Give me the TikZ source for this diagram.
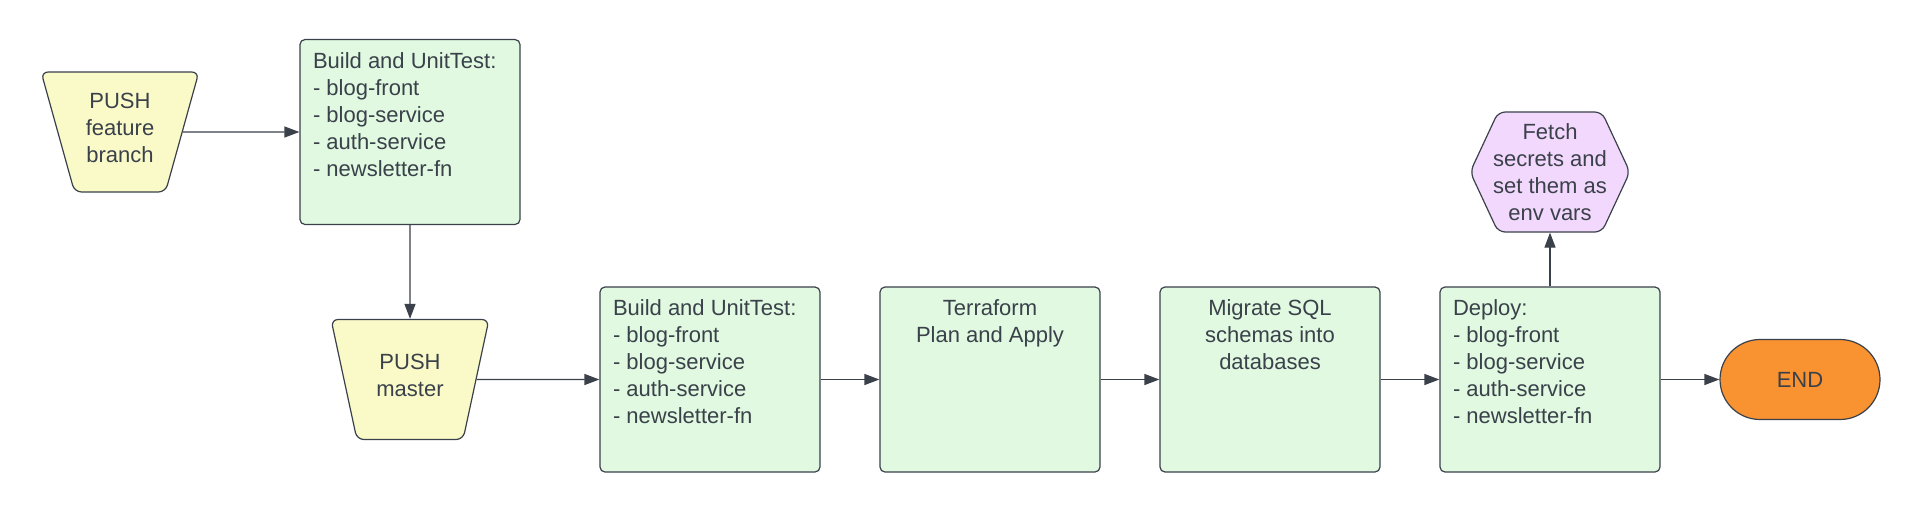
\documentclass[tikz,border=0pt]{standalone}
\usepackage{fontspec}
\setmainfont{Liberation Sans}
\usetikzlibrary{shapes.geometric,shapes.symbols,arrows.meta}
\definecolor{inkgray}{HTML}{3A414A}
\definecolor{pushyellow}{HTML}{FAFAC8}
\definecolor{stagegreen}{HTML}{E0F9E0}
\definecolor{secretpurple}{HTML}{F2D8FC}
\definecolor{endorange}{HTML}{F99230}
\newcommand{\listtext}[1]{\parbox[c][165pt][t]{194pt}{\raggedright\strut #1}}
\newcommand{\midtext}[1]{\parbox[c][165pt][t]{194pt}{\centering\strut #1}}
\tikzset{
  pushbox/.style={trapezium, trapezium left angle=72, trapezium right angle=72,
    shape border rotate=180, trapezium stretches=true, minimum width=158pt,
    minimum height=120pt, inner sep=0pt, draw=inkgray, fill=pushyellow,
    line width=1.2pt, rounded corners=7pt, align=center, text depth=8pt},
  stagebox/.style={rectangle, draw=inkgray, fill=stagegreen, line width=1.2pt,
    rounded corners=5pt, inner xsep=13pt, inner ysep=10pt},
  secretbox/.style={signal, signal to=east and west, signal pointer angle=130,
    minimum height=120pt, inner xsep=-5pt, inner ysep=0pt, draw=inkgray,
    fill=secretpurple, line width=1.2pt, rounded corners=7pt, align=center},
  endbox/.style={rectangle, rounded corners=40pt, minimum width=160pt,
    minimum height=80pt, draw=inkgray, fill=endorange, line width=1.2pt},
  flow/.style={-{Triangle[length=15pt,width=11pt]}, draw=inkgray, line width=1.2pt}
}
\begin{document}
\begin{tikzpicture}[x=1pt,y=-1pt,
  every node/.append style={font=\fontsize{22}{27}\selectfont, text=inkgray}]
  \useasboundingbox (0,0) rectangle (1920,512);

  % feature branch
  \node[pushbox] (pushfeat) at (120,132) {PUSH\\feature\\branch};
  \node[stagebox] (buildfeat) at (410,132) {\listtext{Build and UnitTest:\\
    - blog-front\\- blog-service\\- auth-service\\- newsletter-fn}};

  % master pipeline
  \node[pushbox] (pushmaster) at (410,379.5) {PUSH\\master};
  \node[stagebox] (buildmaster) at (710,379.5) {\listtext{Build and UnitTest:\\
    - blog-front\\- blog-service\\- auth-service\\- newsletter-fn}};
  \node[stagebox] (terraform) at (990,379.5) {\midtext{Terraform\\Plan and Apply}};
  \node[stagebox] (migrate) at (1270,379.5) {\midtext{Migrate SQL\\schemas into\\databases}};
  \node[stagebox] (deploy) at (1550,379.5) {\listtext{Deploy:\\
    - blog-front\\- blog-service\\- auth-service\\- newsletter-fn}};
  \node[secretbox] (secrets) at (1550,172) {Fetch\\secrets and\\set them as\\env vars};
  \node[endbox] (finish) at (1800,379.5) {END};

  \draw[flow] (pushfeat.east) -- (buildfeat.west);
  \draw[flow] (buildfeat.south) -- (pushmaster.north);
  \draw[flow] (pushmaster.east) -- (buildmaster.west);
  \draw[flow] (buildmaster) -- (terraform);
  \draw[flow] (terraform) -- (migrate);
  \draw[flow] (migrate) -- (deploy);
  \draw[flow] (deploy) -- (finish);
  \draw[flow] (deploy.north) -- (secrets.south);
\end{tikzpicture}
\end{document}
